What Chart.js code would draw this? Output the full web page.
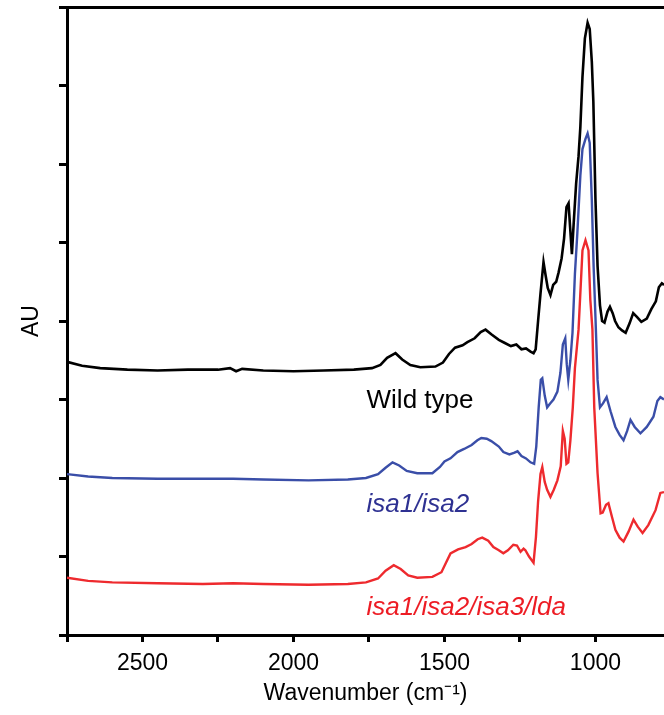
<!DOCTYPE html>
<html>
<head>
<meta charset="utf-8">
<script src="https://cdn.jsdelivr.net/npm/chart.js@4.4.1/dist/chart.umd.min.js"></script>
<style>
  html, body { margin: 0; padding: 0; background: #fff; }
  #wrap { width: 664px; height: 715px; }
</style>
</head>
<body>
<div id="wrap"><canvas id="ftir" width="664" height="715"></canvas></div>
<script>
// FTIR spectra, wavenumber (cm-1) vs absorbance (stacked, arbitrary units)
const wildTypeX = [2750, 2700, 2640, 2550, 2450, 2350, 2250, 2210, 2190, 2170, 2100, 2000, 1900, 1800, 1740, 1712, 1690, 1662, 1640, 1613, 1580, 1530, 1505, 1485, 1465, 1440, 1424, 1400, 1380, 1364, 1345, 1320, 1300, 1280, 1262, 1245, 1230, 1215, 1205, 1198, 1190, 1182, 1172, 1165, 1158, 1149, 1140, 1130, 1122, 1112, 1104, 1096, 1089, 1084, 1078, 1072, 1064, 1056, 1050, 1043, 1035, 1026, 1019, 1012, 1007, 1000, 993, 985, 978, 970, 960, 952, 943, 935, 924, 912, 900, 887, 875, 862, 848, 830, 815, 800, 790, 780, 773];
const wildTypeY = [3.48, 3.43, 3.40, 3.38, 3.37, 3.38, 3.38, 3.40, 3.36, 3.39, 3.37, 3.36, 3.37, 3.38, 3.40, 3.44, 3.53, 3.59, 3.51, 3.44, 3.41, 3.42, 3.47, 3.58, 3.66, 3.69, 3.73, 3.78, 3.86, 3.89, 3.83, 3.76, 3.72, 3.68, 3.70, 3.64, 3.65, 3.61, 3.59, 3.64, 4.00, 4.35, 4.75, 4.58, 4.42, 4.33, 4.46, 4.50, 4.62, 4.80, 5.05, 5.45, 5.50, 5.20, 4.85, 5.25, 5.75, 6.10, 6.47, 7.11, 7.60, 7.80, 7.72, 7.30, 6.80, 5.55, 4.70, 4.20, 4.00, 3.98, 4.12, 4.18, 4.10, 4.00, 3.92, 3.88, 3.85, 3.97, 4.10, 4.05, 3.99, 4.03, 4.15, 4.25, 4.43, 4.48, 4.46];

const isa12X = [2750, 2680, 2600, 2450, 2300, 2200, 2100, 1950, 1820, 1760, 1720, 1695, 1672, 1650, 1625, 1590, 1540, 1515, 1500, 1480, 1457, 1435, 1410, 1391, 1378, 1360, 1345, 1320, 1305, 1285, 1270, 1258, 1245, 1230, 1215, 1203, 1196, 1188, 1181, 1176, 1168, 1160, 1150, 1139, 1126, 1116, 1108, 1100, 1095, 1090, 1083, 1076, 1068, 1060, 1050, 1043, 1033, 1026, 1019, 1012, 1006, 1000, 993, 985, 975, 963, 950, 934, 920, 907, 895, 884, 870, 851, 830, 808, 795, 785, 773];
const isa12Y = [2.05, 2.02, 2.00, 1.99, 1.99, 1.99, 1.98, 1.97, 1.98, 2.00, 2.05, 2.13, 2.20, 2.16, 2.09, 2.06, 2.06, 2.14, 2.21, 2.25, 2.33, 2.37, 2.42, 2.48, 2.51, 2.50, 2.47, 2.40, 2.33, 2.30, 2.32, 2.34, 2.28, 2.25, 2.20, 2.18, 2.40, 2.90, 3.25, 3.27, 3.05, 2.90, 2.95, 3.00, 3.10, 3.34, 3.70, 3.78, 3.45, 3.25, 3.50, 3.85, 4.60, 5.12, 5.85, 6.19, 6.32, 6.39, 6.27, 5.54, 4.69, 4.05, 3.25, 2.90, 2.95, 3.03, 2.85, 2.65, 2.55, 2.48, 2.60, 2.74, 2.65, 2.57, 2.65, 2.78, 2.98, 3.03, 3.00];

const isa123lX = [2750, 2680, 2600, 2450, 2300, 2200, 2100, 1950, 1820, 1760, 1720, 1695, 1668, 1645, 1620, 1590, 1540, 1510, 1495, 1480, 1455, 1430, 1410, 1390, 1375, 1355, 1338, 1320, 1305, 1290, 1272, 1260, 1248, 1238, 1232, 1220, 1205, 1197, 1190, 1182, 1176, 1168, 1160, 1149, 1138, 1126, 1115, 1108, 1102, 1096, 1090, 1083, 1075, 1068, 1056, 1043, 1033, 1023, 1017, 1010, 1004, 993, 983, 976, 965, 957, 945, 934, 920, 907, 890, 874, 860, 844, 825, 801, 785, 773];
const isa123lY = [0.73, 0.69, 0.67, 0.66, 0.65, 0.66, 0.65, 0.64, 0.65, 0.67, 0.72, 0.82, 0.89, 0.84, 0.76, 0.73, 0.74, 0.80, 0.92, 1.04, 1.09, 1.12, 1.16, 1.22, 1.24, 1.20, 1.12, 1.08, 1.04, 1.08, 1.15, 1.14, 1.06, 1.10, 1.08, 1.00, 0.92, 1.25, 1.70, 2.05, 2.14, 1.95, 1.85, 1.76, 1.85, 1.97, 2.15, 2.60, 2.50, 2.18, 2.20, 2.48, 2.90, 3.40, 3.89, 4.90, 5.03, 4.90, 4.27, 3.89, 2.90, 2.06, 1.55, 1.56, 1.66, 1.68, 1.50, 1.34, 1.24, 1.19, 1.32, 1.47, 1.38, 1.30, 1.40, 1.59, 1.81, 1.82];

// x tick marks every 250 cm-1, only the 500s are labelled
const xTickValues = [2750, 2500, 2250, 2000, 1750, 1500, 1250, 1000];
const xMajorLabels = [2500, 2000, 1500, 1000];

function toPoints(xs, ys) {
  return xs.map((x, i) => ({x: x, y: ys[i]}));
}

const font = 'Liberation Sans, Arial, Helvetica, sans-serif';

// names written next to each trace
const traceLabels = {
  id: 'traceLabels',
  afterDatasetsDraw(chart, args, opts) {
    const {ctx, scales: {x, y}} = chart;
    ctx.save();
    ctx.textBaseline = 'alphabetic';
    ctx.textAlign = 'left';
    opts.items.forEach(item => {
      ctx.font = (item.italic ? 'italic ' : '') + '26px ' + font;
      ctx.fillStyle = item.color;
      ctx.fillText(item.text, x.getPixelForValue(item.x), y.getPixelForValue(item.y));
    });
    ctx.restore();
  }
};

new Chart(document.getElementById('ftir'), {
  type: 'line',
  data: {
    datasets: [
      {label: 'Wild type', data: toPoints(wildTypeX, wildTypeY), borderColor: '#000000', borderWidth: 2.6},
      {label: 'isa1/isa2', data: toPoints(isa12X, isa12Y), borderColor: '#3a4ea8', borderWidth: 2.4},
      {label: 'isa1/isa2/isa3/lda', data: toPoints(isa123lX, isa123lY), borderColor: '#ee2a2e', borderWidth: 2.4}
    ].map(d => Object.assign(d, {pointRadius: 0, tension: 0, fill: false}))
  },
  plugins: [traceLabels],
  options: {
    responsive: false,
    animation: false,
    events: [],
    layout: {padding: 0},
    plugins: {
      legend: {display: false},
      tooltip: {enabled: false},
      traceLabels: {
        items: [
          {text: 'Wild type', x: 1758, y: 2.89, color: '#000000', italic: false},
          {text: 'isa1/isa2', x: 1758, y: 1.57, color: '#2e3192', italic: true},
          {text: 'isa1/isa2/isa3/lda', x: 1758, y: 0.25, color: '#ed1c24', italic: true}
        ]
      }
    },
    scales: {
      x: {
        type: 'linear',
        position: 'bottom',
        reverse: true,
        min: 773,
        max: 2750,
        afterBuildTicks: scale => { scale.ticks = xTickValues.map(v => ({value: v})); },
        afterFit: scale => { scale.height = 80; scale.paddingRight = 0; },
        border: {display: true, color: '#000', width: 3},
        grid: {drawOnChartArea: false, drawTicks: true, tickLength: 7, tickWidth: 3, tickColor: '#000'},
        ticks: {
          autoSkip: false,
          maxRotation: 0,
          padding: 8,
          color: '#000',
          font: {family: font, size: 23},
          callback: v => xMajorLabels.includes(v) ? String(v) : ''
        },
        title: {
          display: true,
          text: 'Wavenumber (cm\u207B\u00B9)',
          color: '#000',
          font: {family: font, size: 23},
          padding: {top: 0, bottom: 8}
        }
      },
      xTop: {
        type: 'linear',
        position: 'top',
        reverse: true,
        min: 773,
        max: 2750,
        afterBuildTicks: scale => { scale.ticks = []; },
        afterFit: scale => { scale.height = 7; scale.paddingRight = 0; scale.paddingLeft = 0; },
        border: {display: true, color: '#000', width: 3},
        grid: {display: false, drawTicks: false},
        ticks: {display: false}
      },
      y: {
        type: 'linear',
        position: 'left',
        min: 0,
        max: 8,
        afterFit: scale => { scale.width = 67; },
        border: {display: true, color: '#000', width: 3},
        grid: {drawOnChartArea: false, drawTicks: true, tickLength: 8, tickWidth: 3, tickColor: '#000'},
        ticks: {display: false, stepSize: 1},
        title: {
          display: true,
          text: 'AU',
          color: '#000',
          font: {family: font, size: 23},
          padding: {top: 18, bottom: 0}
        }
      }
    }
  }
});
</script>
</body>
</html>
